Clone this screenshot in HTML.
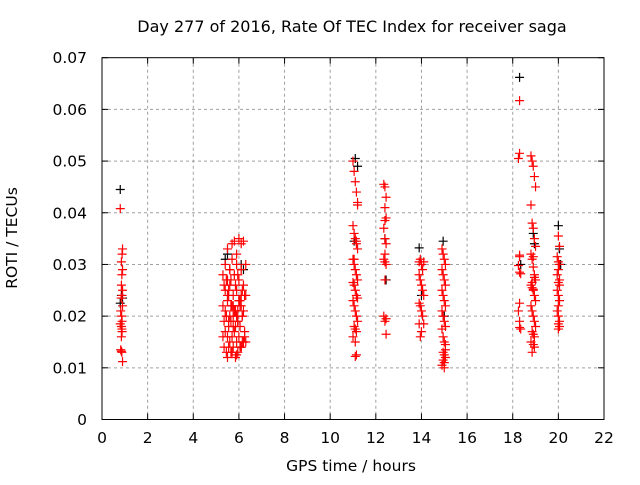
<!DOCTYPE html>
<html><head><meta charset="utf-8"><style>
body{margin:0;background:#fff}
svg text{font-family:"DejaVu Sans","Liberation Sans",sans-serif;fill:#000}
</style></head><body>
<svg id="chart" width="640" height="480">
<text x="352" y="32" font-size="16" text-anchor="middle">Day 277 of 2016, Rate Of TEC Index for receiver saga</text>
<text x="351" y="471" font-size="15.5" text-anchor="middle">GPS time / hours</text>
<text transform="translate(17,238) rotate(-90)" font-size="15.5" text-anchor="middle">ROTI / TECUs</text>
<g id="grid"></g><g id="ticks"></g><g id="marks"></g>
<rect x="102" y="57.7" width="502" height="361.8" fill="none" stroke="#000" stroke-width="1"/>
</svg>
<script>
const xTicks=[0,2,4,6,8,10,12,14,16,18,20,22];
const yTicks=[0,0.01,0.02,0.03,0.04,0.05,0.06,0.07];
const yTickLabels=["0","0.01","0.02","0.03","0.04","0.05","0.06","0.07"];
const blackT=[0.8,0.85,0.9,0.8,5.4,5.5,6.1,6.2,11.1,11.2,11.05,12.4,12.45,13.9,14.0,14.95,15.0,18.3,18.35,18.9,18.95,20.0,20.05,20.1];
const blackV=[0.0445,0.024,0.0235,0.0225,0.031,0.032,0.030,0.029,0.0505,0.049,0.0345,0.035,0.027,0.0332,0.024,0.0345,0.020,0.0662,0.030,0.036,0.034,0.0375,0.033,0.030];
const redT=[0.8,0.9,0.88,0.85,0.9,0.87,0.85,0.9,0.88,0.84,0.9,0.82,0.86,0.88,0.8,0.85,0.87,0.88,0.85,0.82,0.87,0.85,0.9,
5.3,5.4,5.5,5.6,5.7,5.8,5.9,6.0,6.1,6.2,6.3,5.35,5.45,5.55,5.65,5.75,5.85,5.95,6.05,6.15,6.25,5.3,5.4,5.5,5.6,5.7,5.8,5.9,6.0,6.1,6.2,6.3,5.35,5.45,5.55,5.65,5.75,5.85,5.95,6.05,6.15,6.25,5.3,5.4,5.5,5.6,5.7,5.8,5.9,6.0,6.1,6.2,6.3,5.35,5.45,5.55,5.65,5.75,5.85,5.95,6.05,6.15,6.25,5.4,5.5,5.6,5.7,5.8,5.9,6.0,6.1,6.2,5.45,5.55,5.65,5.75,5.85,5.95,6.05,5.5,5.6,5.7,5.8,5.9,6.0,6.1,5.55,5.75,5.95,6.15,5.5,5.7,5.9,6.1,
11.0,11.05,11.1,11.15,11.2,11.0,11.05,11.1,11.15,11.2,11.0,11.05,11.1,11.15,11.2,11.0,11.05,11.1,11.15,11.2,11.0,11.05,11.1,11.15,11.2,11.05,11.1,11.15,11.0,11.1,11.15,11.05,11.2,11.1,11.15,
12.35,12.4,12.45,12.4,12.45,12.4,12.35,12.4,12.45,12.4,12.35,12.4,12.45,12.4,12.35,12.45,12.4,12.45,
13.9,13.95,14.0,14.05,14.1,13.9,13.95,14.0,14.05,14.1,13.9,13.95,14.0,14.05,13.9,14.0,13.95,14.1,
14.9,14.95,15.0,15.05,14.9,14.95,15.0,15.05,14.9,14.95,15.0,15.05,14.9,14.95,15.0,15.05,14.9,14.95,15.0,15.05,14.95,15.0,15.05,14.95,15.0,14.9,15.0,15.05,
18.3,18.3,18.25,18.3,18.3,18.25,18.3,18.35,18.3,18.25,18.3,18.3,18.35,
18.8,18.85,18.9,18.95,19.0,18.8,18.85,18.9,18.95,19.0,18.8,18.85,18.9,18.95,19.0,18.8,18.85,18.9,18.95,19.0,18.8,18.85,18.9,18.95,19.0,18.85,18.9,18.95,18.8,18.9,18.95,18.85,18.9,18.95,18.85,18.9,
20.0,20.05,19.95,20.0,20.05,20.0,19.95,20.05,20.0,20.05,19.95,20.0,20.05,20.0,19.95,20.0,20.05,20.0,20.05,20.0];
const redV=[0.0408,0.033,0.032,0.0305,0.029,0.028,0.026,0.025,0.024,0.0235,0.022,0.021,0.020,0.019,0.0185,0.018,0.0175,0.017,0.016,0.0135,0.013,0.0132,0.0112,
0.028,0.030,0.033,0.029,0.034,0.0345,0.032,0.035,0.034,0.0345,0.030,0.026,0.027,0.025,0.027,0.024,0.026,0.028,0.023,0.025,0.024,0.022,0.021,0.023,0.020,0.022,0.021,0.020,0.023,0.022,0.021,0.024,0.019,0.020,0.018,0.019,0.020,0.018,0.019,0.018,0.020,0.017,0.016,0.017,0.016,0.015,0.016,0.017,0.015,0.016,0.014,0.015,0.015,0.014,0.013,0.014,0.013,0.014,0.012,0.013,0.014,0.015,0.016,0.025,0.024,0.026,0.022,0.021,0.025,0.023,0.024,0.026,0.020,0.019,0.022,0.018,0.021,0.019,0.022,0.027,0.029,0.031,0.028,0.030,0.027,0.029,0.024,0.022,0.021,0.020,0.012,0.013,0.0125,0.014,
0.050,0.048,0.046,0.044,0.042,0.0375,0.036,0.035,0.034,0.033,0.031,0.030,0.029,0.028,0.027,0.0265,0.026,0.025,0.024,0.0235,0.023,0.022,0.021,0.020,0.019,0.018,0.0175,0.017,0.016,0.015,0.0345,0.031,0.0415,0.0122,0.0125,
0.0455,0.045,0.043,0.041,0.039,0.0385,0.037,0.035,0.034,0.032,0.031,0.0305,0.030,0.027,0.020,0.0195,0.019,0.0165,
0.0305,0.031,0.030,0.029,0.0305,0.028,0.027,0.026,0.025,0.024,0.0225,0.022,0.021,0.020,0.0185,0.017,0.016,0.0185,
0.033,0.032,0.031,0.030,0.029,0.028,0.027,0.026,0.025,0.024,0.023,0.022,0.021,0.020,0.019,0.018,0.0175,0.016,0.015,0.0135,0.013,0.0125,0.012,0.0115,0.011,0.0105,0.010,0.0145,
0.0617,0.0515,0.0505,0.0318,0.0315,0.0298,0.0285,0.0282,0.0225,0.021,0.019,0.0178,0.0175,
0.051,0.050,0.049,0.047,0.045,0.0415,0.038,0.037,0.035,0.0335,0.032,0.031,0.0295,0.028,0.027,0.026,0.0255,0.025,0.024,0.023,0.022,0.021,0.020,0.019,0.018,0.017,0.0165,0.016,0.015,0.0145,0.014,0.013,0.0315,0.0275,0.0265,0.0252,
0.0355,0.0335,0.0315,0.0305,0.030,0.029,0.028,0.027,0.0265,0.026,0.025,0.024,0.023,0.022,0.021,0.020,0.019,0.0185,0.018,0.0175];
const X0=102,X1=604,Y0=419.5,Y1=57.7;
function xs(t){return X0+(t-0)/22*(X1-X0);}
function ys(v){return Y0-(v-0)/0.07*(Y0-Y1);}
const NS="http://www.w3.org/2000/svg";
const grid=document.getElementById('grid'),ticks=document.getElementById('ticks'),marks=document.getElementById('marks');
function mk(tag,attrs,parent){const e=document.createElementNS(NS,tag);for(const k in attrs)e.setAttribute(k,attrs[k]);parent.appendChild(e);return e;}
xTicks.forEach((t,i)=>{
  const x=xs(t);
  if(i>0&&i<xTicks.length-1){const g=mk('line',{x1:x,x2:x,y1:Y1,y2:Y0,stroke:'#a0a0a0','stroke-dasharray':'3,3'},grid);
  
  }
  mk('line',{x1:x,x2:x,y1:Y0,y2:Y0-6,stroke:'#000'},ticks);
  mk('line',{x1:x,x2:x,y1:Y1,y2:Y1+6,stroke:'#000'},ticks);
  const tx=mk('text',{x:x,y:443,'font-size':15.5,'text-anchor':'middle'},ticks);tx.textContent=t;
  
  
});
yTicks.forEach((v,i)=>{
  const y=ys(v);
  if(i>0&&i<yTicks.length-1){const g=mk('line',{x1:X0,x2:X1,y1:y,y2:y,stroke:'#a0a0a0','stroke-dasharray':'3,3'},grid);
  
  }
  mk('line',{x1:X0,x2:X0+6,y1:y,y2:y,stroke:'#000'},ticks);
  mk('line',{x1:X1,x2:X1-6,y1:y,y2:y,stroke:'#000'},ticks);
  const tx=mk('text',{x:87,y:y+5.5,'font-size':15.5,'text-anchor':'end'},ticks);tx.textContent=yTickLabels[i];
  
  
});
function plus(t,v,color,name){
  const x=xs(t),y=ys(v);
  const p=mk('path',{d:`M${x-4.5},${y}H${x+4.5}M${x},${y-4.5}V${y+4.5}`,stroke:color,'stroke-width':1.2,fill:'none'},marks);
  
  
}
blackT.forEach((t,i)=>plus(t,blackV[i],'#000','black-point'));
redT.forEach((t,i)=>plus(t,redV[i],'#ff0000','red-point'));
</script>
</body></html>
